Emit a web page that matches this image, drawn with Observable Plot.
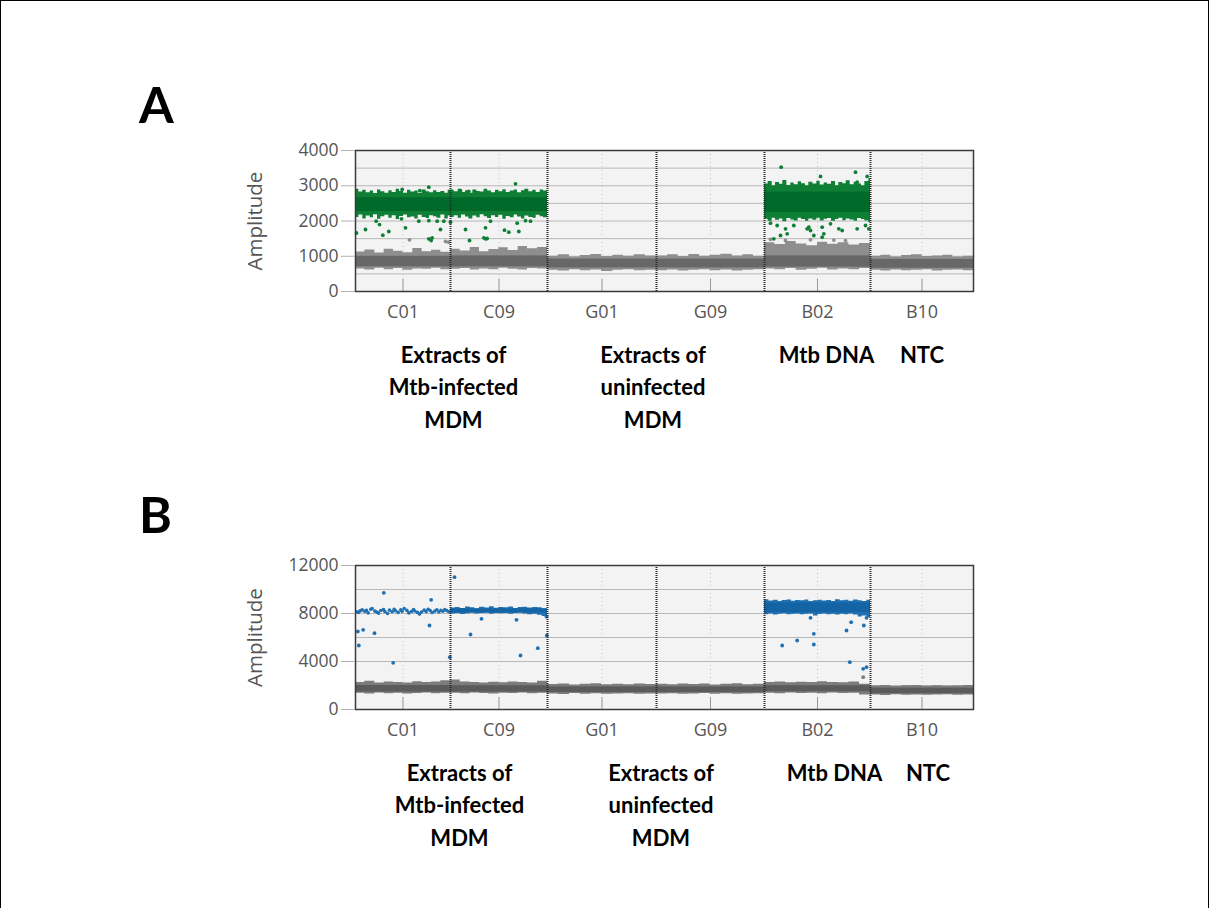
<!DOCTYPE html>
<html><head><meta charset="utf-8">
<script src="https://cdn.jsdelivr.net/npm/d3@7"></script>
<script src="https://cdn.jsdelivr.net/npm/@observablehq/plot@0.6"></script>
<style>
body{margin:0;background:#fff;}
#fig{position:relative;width:1211px;height:908px;overflow:hidden;background:#fff;}
#border{position:absolute;left:0;top:0;width:1209px;height:1000px;border:1.5px solid #000;box-sizing:border-box;}
.letter{position:absolute;font-family:Lato,sans-serif;font-weight:700;font-size:50px;line-height:1;color:#000;}
.plot{position:absolute;left:0;}
</style></head>
<body>
<div id="fig">
<div id="border"></div>
<div class="letter" style="left:139px;top:79px">A</div>
<div class="letter" style="left:139px;top:489px">B</div>
<div class="plot" id="pa" style="top:130px"></div>
<div class="plot" id="pb" style="top:545px"></div>
</div>
<script>
// ---------- shared data ----------
const wells = ["C01","C09","G01","G09","B02","B10"];
const wellDroplets = [14250,14550,16350,16200,15900,15450];
const groupLabels = ["Extracts of\nMtb-infected\nMDM","Extracts of\nuninfected\nMDM","Mtb DNA","NTC"];
const groupFirstWell = [0,2,4,5];
const groupLastWell = [1,3,4,5];

// ---------- panel A (channel 1, FAM, green) ----------
const aYTicks = [0,1000,2000,3000,4000];
const aGrid = [500,1000,1500,2000,2500,3000,3500];
// negative (grey) droplet cloud: ragged outline per droplet event
const aNegEvent = [0,1400,2900,4300,5700,7100,8600,10000,11400,12800,
  14250,15700,17200,18600,20000,21500,22900,24400,25800,27300,
  28800,30400,32100,33700,35300,36900,38600,40200,41800,43500,
  45150,46800,48400,50000,51600,53200,54800,56500,58100,59700,
  61350,62900,64500,66100,67700,69300,70800,72400,74000,75600,
  77250,78800,80300,81900,83400,85000,86500,88100,89600,91200,92700];
const aNegHi = [1120,1180,1090,1200,1140,1100,1220,1130,1170,1110,
  1200,1150,1250,1130,1190,1240,1160,1280,1210,1250,
  1000,1040,980,1020,1050,990,1030,1000,1040,1010,
  1010,1040,990,1050,1000,1030,1060,1010,1040,1000,
  1380,1330,1420,1350,1300,1400,1340,1380,1320,1360,
  1000,1030,980,1020,1040,990,1010,1030,980,1000,1000];
const aNegLo = [640,610,660,620,650,600,640,630,660,620,
  630,650,610,640,620,660,630,610,650,640,
  600,580,620,590,610,570,600,620,590,600,
  590,610,580,600,620,590,610,580,600,620,
  640,620,650,600,630,660,610,640,620,650,
  600,580,610,590,600,620,580,600,610,590,590];
const aNegCoreLo = [700,700,670,670,690,660];
const aNegCoreHi = [1000,1010,920,920,1010,910];
// positive (green) droplet clouds
const aPosEvent = [0,500,1100,1600,2200,2700,3300,3800,4400,5000,
  5500,6100,6600,7200,7800,8300,8900,9400,10000,10600,
  11100,11700,12200,12800,13400,13900,14250,14800,15400,15900,
  16500,17000,17600,18200,18700,19300,19800,20400,21000,21500,
  22100,22600,23200,23800,24300,24900,25400,26000,26600,27100,
  27700,28200,28800,
  61350,61900,62500,63000,63600,64100,64700,65300,65800,66400,
  66900,67500,68000,68600,69200,69700,70300,70800,71400,72000,
  72500,73100,73600,74200,74800,75300,75900,76400,77000,77250];
const aPosHi = [2900,2820,2870,2800,2850,2780,2880,2830,2790,2860,
  2810,2900,2840,2790,2870,2820,2850,2780,2880,2830,
  2800,2860,2810,2840,2790,2870,2880,2830,2900,2810,
  2860,2790,2880,2840,2820,2900,2850,2800,2870,2830,
  2890,2810,2850,2880,2800,2860,2900,2830,2870,2810,
  2880,2850,2880,
  3050,3120,3000,3090,3040,3150,3010,3080,3030,3110,
  3060,3000,3100,3050,3130,3020,3080,3040,3120,3000,
  3090,3060,3140,3030,3100,3050,3000,3120,3200,3100];
const aPosLo = [2100,2170,2060,2140,2090,2180,2050,2120,2160,2080,
  2150,2040,2130,2170,2090,2110,2060,2160,2100,2070,
  2150,2120,2080,2170,2060,2140,2100,2150,2080,2170,
  2110,2060,2140,2090,2180,2120,2070,2150,2100,2160,
  2050,2130,2090,2170,2110,2060,2140,2100,2080,2160,
  2120,2090,2100,
  2050,1990,2080,2020,2060,1980,2070,2030,2000,2080,
  2040,1990,2060,2020,2080,2000,2050,2070,1990,2040,
  2080,2010,2060,2030,1990,2070,2040,2000,1950,2050];
const aPosCoreLo = [2270,2270,null,null,2240,null];
const aPosCoreHi = [2660,2660,null,null,2820,null];
// isolated droplets
const aPosOutEvent = [150,1500,3100,3600,4100,5000,6900,7000,7500,9500,9650,11000,11000,11000,11350,11500,12250,12750,13250,
  14250,15750,16500,17000,17100,19250,19500,19500,19500,19750,20250,22350,23000,24000,24250,24500,25500,26250,
  62250,62750,63250,63750,63850,64500,64750,65750,67750,68000,68250,68750,69750,70000,70000,70250,71250,72500,73000,75000,75250,75250,76500,76750,77000];
const aPosOutAmp = [1660,1759,1995,1900,1598,1702,2062,2894,1807,1995,2860,2010,1494,2960,1447,1523,1995,1759,1995,
  1967,2860,1759,2840,1447,1523,1494,1807,2860,1504,1995,1740,1684,3054,1939,1702,2010,1995,
  1938,1494,1872,1589,3527,1778,1636,1872,1778,1825,1731,1589,3264,1825,1542,1636,1919,1778,1731,3385,3102,1778,1872,3264,1778];
const aNegOutEvent = [8100,13500,13950,62250,64500,68250,71750,73500];
const aNegOutAmp   = [1466,1420,1399,1480,1450,1470,1460,1440];

// ---------- panel B (channel 2, HEX, blue) ----------
const bYTicks = [0,4000,8000,12000];
const bGrid = [2000,4000,6000,8000,10000];
const bNegEvent = aNegEvent;
const bNegHi = [2250,2350,2200,2300,2250,2200,2320,2260,2300,2400,
  2450,2300,2250,2200,2280,2230,2300,2250,2200,2350,
  2080,2120,2050,2100,2150,2070,2110,2060,2120,2090,
  2100,2060,2130,2080,2120,2050,2100,2140,2070,2110,
  2250,2300,2220,2280,2240,2310,2260,2230,2290,2100,
  1950,1990,1920,1970,2000,1940,1980,1930,1960,1990,1990];
const bNegLo = [1350,1300,1380,1320,1360,1300,1340,1370,1310,1350,
  1350,1320,1380,1340,1300,1360,1330,1370,1310,1350,
  1300,1260,1330,1280,1310,1270,1300,1320,1280,1300,
  1290,1320,1270,1300,1330,1280,1310,1270,1300,1320,
  1350,1320,1380,1340,1360,1310,1370,1330,1350,1200,
  1200,1170,1220,1190,1210,1180,1200,1230,1190,1210,1210];
const bNegCoreLo = [1450,1450,1420,1420,1480,1320];
const bNegCoreHi = [2000,1980,1880,1880,1980,1780];
const bPosEvent = [14250,15000,15700,16500,17200,17900,18600,19400,20100,20800,
  21500,22200,23000,23700,24400,25100,25800,26600,27300,28000,28800,
  61350,62000,62700,63400,64000,64700,65400,66000,66700,67400,
  68000,68700,69400,70000,70700,71400,72000,72700,73400,74000,
  74700,75400,76000,76700,77250];
const bPosHi = [8450,8500,8420,8550,8480,8400,8520,8460,8560,8430,
  8500,8470,8540,8420,8490,8530,8450,8500,8470,8400,8400,
  9150,9050,9100,9000,9080,9120,9020,9090,9060,9130,
  9010,9070,9110,9040,9080,9000,9150,9060,9100,9030,
  9120,9070,9010,9100,9100];
const bPosLo = [7950,8000,7920,7980,8030,7950,7990,8020,7940,8000,
  7970,8010,7930,7990,8020,7960,7900,7940,7850,7750,7750,
  7900,7950,7880,7930,7970,7900,7940,7960,7890,7930,
  7950,7800,7920,7960,7900,7940,7880,7930,7900,7950,
  7880,7700,7800,7650,7650];
const bPosCoreLo = [null,8060,null,null,8080,null];
const bPosCoreHi = [null,8380,null,null,8880,null];
// well C01 positive droplets (sparse)
const bC01LineEvent = [200,450,700,1000,1400,1650,1900,2300,2500,2900,3200,3450,3800,4200,4400,4800,5100,5500,5800,6000,6400,6800,7000,7300,7700,8000,8400,8700,8900,9300,9600,9900,10300,10600,10900,11200,11500,11900,12200,12500,12800,13100,13400,13700,14000];
const bC01LineAmp = [8150,8080,8220,8300,8180,8260,8050,8350,8420,8200,8120,8030,8250,8330,8170,8000,8280,8140,8360,8230,8090,8300,8180,8420,8260,8050,8170,8330,8210,8090,7950,8120,8280,8160,8350,8240,8080,8200,8310,8130,8270,8190,8320,8250,8150];
const bPosOutEvent = [350,1150,500,2850,4250,5650,11350,11100,14150,14850,17250,18900,24150,24750,27350,28700,28650,
  64000,66250,68750,68750,68250,73650,74350,76250,76650,74150,76150,76650];
const bPosOutAmp = [6500,6639,5333,6361,9722,3889,9139,7000,4361,11028,6250,7556,7472,4500,5111,6167,7750,
  5333,5750,6306,5417,7639,6583,7278,7000,7639,3944,3389,3528];
const bNegOutEvent = [76150];
const bNegOutAmp = [2694];

// ---------- derived tables ----------
const starts = []; let acc = 0;
for (const n of wellDroplets) { starts.push(acc); acc += n; }
const total = acc;
const ends = starts.map((s,i) => s + wellDroplets[i]);
const centers = starts.map((s,i) => s + wellDroplets[i]/2);
const bands = (lo, hi) => wells.map((w,i) => ({x1: starts[i], x2: ends[i], y1: lo[i], y2: hi[i]})).filter(d => d.y1 != null);
const pts = (ev, amp) => ev.map((e,i) => ({x: e, y: amp[i]}));
const cloud = (ev, lo, hi) => ev.map((e,i) => ({x: e, lo: lo[i], hi: hi[i], well: wells.findIndex((w,j) => e >= starts[j] && e < ends[j]) }));
const groups = groupLabels.map((t,i) => ({text: t, x: (starts[groupFirstWell[i]] + ends[groupLastWell[i]]) / 2}));

function panel(cfg) {
  const rect = (data, fill) => Plot.rect(data, {x1: "x1", x2: "x2", y1: "y1", y2: "y2", fill});
  const area = (data, fill, z) => Plot.areaY(data, {x: "x", y1: "lo", y2: "hi", z, fill, curve: "step-after"});
  return Plot.plot({
    width: 1211, height: cfg.height,
    marginLeft: 355, marginRight: 238, marginTop: 20, marginBottom: cfg.marginBottom,
    x: {domain: [0, total], axis: null},
    y: {domain: cfg.yDomain, axis: null},
    style: {fontFamily: "'Open Sans', sans-serif", background: "transparent", overflow: "visible"},
    marks: [
      Plot.frame({fill: "#f3f3f3"}),
      Plot.gridY({ticks: cfg.grid, stroke: "#b8b8b8", strokeOpacity: 1}),
      Plot.ruleX(centers, {stroke: "#c4c4c4", strokeDasharray: "1,3"}),
      Plot.ruleX(centers, {y1: cfg.yDomain[0], y2: cfg.tickLen, stroke: "#999"}),
      Plot.dot(cfg.negOut, {x: "x", y: "y", r: 1.9, fill: cfg.negEdgeColor}),
      area(cfg.negCloud, cfg.negEdgeColor),
      rect(cfg.negCore, cfg.negCoreColor),
      area(cfg.posCloud, cfg.posEdgeColor, d => d.x < 50000 ? 0 : 1),
      rect(cfg.posCore, cfg.posCoreColor),
      Plot.dot(cfg.posLine || [], {x: "x", y: "y", r: 1.8, fill: cfg.posEdgeColor}),
      Plot.dot(cfg.posOut, {x: "x", y: "y", r: 1.9, fill: cfg.posEdgeColor}),
      Plot.ruleX(starts.slice(1), {stroke: "#2a2a2a", strokeWidth: 2, strokeDasharray: "1,1"}),
      Plot.frame({stroke: "#3a3a3a", strokeWidth: 1.5}),
      Plot.axisY({ticks: cfg.yTicks, tickFormat: d => String(d), tickSize: 14, tickPadding: 3, fontSize: 17.5, stroke: "#b0b0b0", fill: "#555", label: null}),
      Plot.axisX({ticks: centers, tickFormat: d => wells[centers.indexOf(d)], tickSize: 0, tickPadding: 14, fontSize: 18, fill: "#555", label: null}),
      Plot.text(["Amplitude"], {frameAnchor: "left", textAnchor: "middle", rotate: -90, dx: -100, fontSize: 20.5, fill: "#555"}),
      ...groups.map((g,i) => Plot.text([g], {x: "x", text: "text", frameAnchor: "bottom", dx: cfg.groupDx[i], dy: 48,
        lineAnchor: "top", lineHeight: 1.48, fontFamily: "Lato, sans-serif", fontWeight: "bold", fontSize: 22, fill: "#000"}))
    ]
  });
}

document.getElementById("pa").append(panel({
  height: 311, marginBottom: 150, yDomain: [0, 4000], yTicks: aYTicks, grid: aGrid, tickLen: 340, groupDx: [2,-3,9,0],
  negCloud: cloud(aNegEvent, aNegLo, aNegHi), negCore: bands(aNegCoreLo, aNegCoreHi),
  posCloud: cloud(aPosEvent, aPosLo, aPosHi), posCore: bands(aPosCoreLo, aPosCoreHi),
  negOut: pts(aNegOutEvent, aNegOutAmp), posOut: pts(aPosOutEvent, aPosOutAmp),
  negEdgeColor: "#8e8e8e", negCoreColor: "#676767", posEdgeColor: "#0f7f36", posCoreColor: "#006a2a"
}));
document.getElementById("pb").append(panel({
  height: 314, marginBottom: 150, yDomain: [0, 12000], yTicks: bYTicks, grid: bGrid, tickLen: 1000, groupDx: [8,5,17,6],
  negCloud: cloud(bNegEvent, bNegLo, bNegHi), negCore: bands(bNegCoreLo, bNegCoreHi),
  posCloud: cloud(bPosEvent, bPosLo, bPosHi), posCore: bands(bPosCoreLo, bPosCoreHi),
  negOut: pts(bNegOutEvent, bNegOutAmp), posOut: pts(bPosOutEvent, bPosOutAmp), posLine: pts(bC01LineEvent, bC01LineAmp),
  negEdgeColor: "#7c7c7c", negCoreColor: "#5b5b5b", posEdgeColor: "#1f70b3", posCoreColor: "#1464a5"
}));
</script>
</body></html>
